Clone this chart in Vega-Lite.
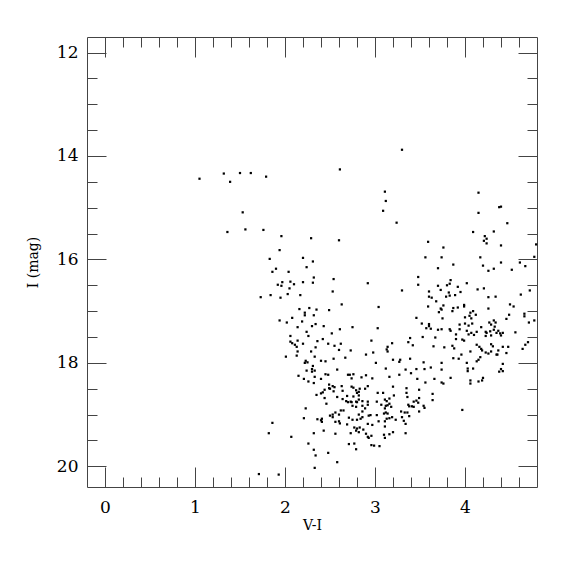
{
  "$schema": "https://vega.github.io/schema/vega-lite/v6.json",
  "width": 450,
  "height": 450,
  "autosize": {"type": "none"},
  "padding": {"left": 87, "top": 37, "right": 38, "bottom": 51},
  "background": "white",
  "config": {
    "view": {"stroke": "#444", "strokeWidth": 1},
    "font": "DejaVu Serif",
    "axis": {"labelFont": "DejaVu Serif", "titleFont": "DejaVu Serif", "domain": false, "grid": false, "tickColor": "#444", "tickWidth": 1, "labelColor": "black", "titleColor": "black", "titleFontWeight": "normal"}
  },
  "data": {"values": [
    {"vi":1.05,"mag":14.44},{"vi":1.32,"mag":14.34},{"vi":1.39,"mag":14.50},{"vi":1.50,"mag":14.33},{"vi":1.62,"mag":14.33},{"vi":1.79,"mag":14.40},{"vi":1.53,"mag":15.09},{"vi":1.36,"mag":15.47},{"vi":1.56,"mag":15.42},{"vi":1.76,"mag":15.43},{"vi":1.96,"mag":15.55},{"vi":1.94,"mag":15.82},{"vi":1.83,"mag":15.99},{"vi":2.20,"mag":15.97},{"vi":2.24,"mag":16.15},{"vi":1.90,"mag":16.18},{"vi":1.86,"mag":16.24},{"vi":2.04,"mag":16.24},{"vi":1.97,"mag":16.44},{"vi":2.06,"mag":16.43},{"vi":2.20,"mag":16.44},{"vi":1.92,"mag":16.49},{"vi":1.96,"mag":16.51},{"vi":2.10,"mag":16.48},{"vi":2.05,"mag":16.56},{"vi":1.73,"mag":16.73},{"vi":1.84,"mag":16.69},{"vi":1.95,"mag":16.74},{"vi":2.03,"mag":16.67},{"vi":2.17,"mag":16.69},{"vi":2.16,"mag":16.96},
    {"vi":2.08,"mag":17.13},{"vi":1.94,"mag":17.18},{"vi":2.02,"mag":17.22},{"vi":2.14,"mag":17.31},{"vi":2.06,"mag":17.48},{"vi":2.06,"mag":17.59},{"vi":2.08,"mag":17.62},{"vi":2.14,"mag":17.57},{"vi":2.11,"mag":17.65},{"vi":2.13,"mag":17.69},{"vi":2.14,"mag":17.78},{"vi":2.01,"mag":17.88},{"vi":2.13,"mag":17.86},{"vi":2.15,"mag":18.25},{"vi":1.86,"mag":19.16},{"vi":1.82,"mag":19.36},{"vi":2.07,"mag":19.43},{"vi":1.71,"mag":20.15},{"vi":1.93,"mag":20.16},
    {"vi":3.30,"mag":13.88},{"vi":2.61,"mag":14.26},{"vi":3.11,"mag":14.69},{"vi":3.12,"mag":14.87},{"vi":3.09,"mag":15.06},{"vi":3.24,"mag":15.29},{"vi":2.29,"mag":15.59},{"vi":2.60,"mag":15.63},{"vi":2.31,"mag":16.04},{"vi":2.32,"mag":16.35},{"vi":2.31,"mag":16.45},{"vi":2.54,"mag":16.38},{"vi":2.92,"mag":16.46},
    {"vi":2.53,"mag":16.62},{"vi":3.30,"mag":16.60},{"vi":2.63,"mag":16.87},{"vi":3.04,"mag":16.92},{"vi":2.27,"mag":16.94},{"vi":2.35,"mag":16.97},{"vi":2.49,"mag":16.98},{"vi":2.22,"mag":17.03},{"vi":2.22,"mag":17.08},{"vi":2.32,"mag":17.08},{"vi":3.46,"mag":17.13},{"vi":2.19,"mag":17.20},{"vi":2.34,"mag":17.25},{"vi":2.30,"mag":17.29},{"vi":2.75,"mag":17.31},{"vi":3.03,"mag":17.33},{"vi":2.43,"mag":17.29},{"vi":2.24,"mag":17.40},{"vi":2.52,"mag":17.43},{"vi":2.61,"mag":17.35},{"vi":2.26,"mag":17.48},{"vi":2.42,"mag":17.54},{"vi":2.36,"mag":17.58},{"vi":3.37,"mag":17.60},{"vi":3.39,"mag":17.52},{"vi":2.96,"mag":17.57},{"vi":2.20,"mag":17.63},{"vi":2.48,"mag":17.63},{"vi":2.55,"mag":17.67},{"vi":2.62,"mag":17.63},{"vi":3.19,"mag":17.62},{"vi":3.14,"mag":17.69},{"vi":3.42,"mag":17.66},{"vi":2.34,"mag":17.70},{"vi":2.60,"mag":17.75},{"vi":3.13,"mag":17.74},{"vi":3.14,"mag":17.78},{"vi":2.73,"mag":17.76},{"vi":2.29,"mag":17.78},{"vi":2.90,"mag":17.84},{"vi":2.98,"mag":17.80},{"vi":2.33,"mag":17.88},{"vi":2.67,"mag":17.90},{"vi":2.54,"mag":17.92},{"vi":3.20,"mag":17.94},{"vi":3.28,"mag":17.94},{"vi":3.27,"mag":17.98},{"vi":3.39,"mag":17.92},{"vi":2.23,"mag":17.96},{"vi":2.25,"mag":17.99},{"vi":2.22,"mag":18.00},{"vi":2.31,"mag":18.06},{"vi":2.40,"mag":17.96},{"vi":2.45,"mag":17.97},{"vi":3.01,"mag":18.00},{"vi":2.30,"mag":18.12},{"vi":2.30,"mag":18.17},{"vi":2.33,"mag":18.15},{"vi":2.24,"mag":18.15},{"vi":2.58,"mag":18.13},{"vi":3.12,"mag":18.11},{"vi":3.34,"mag":18.13},{"vi":3.46,"mag":18.12},{"vi":2.45,"mag":18.22},{"vi":2.48,"mag":18.23},{"vi":2.70,"mag":18.23},{"vi":2.72,"mag":18.23},{"vi":2.76,"mag":18.22},{"vi":2.33,"mag":18.27},{"vi":2.74,"mag":18.30},{"vi":2.85,"mag":18.28},{"vi":2.90,"mag":18.24},{"vi":2.97,"mag":18.30},{"vi":3.16,"mag":18.27},{"vi":3.27,"mag":18.23},{"vi":3.40,"mag":18.20},{"vi":2.21,"mag":18.31},{"vi":2.26,"mag":18.36},{"vi":2.32,"mag":18.39},{"vi":2.40,"mag":18.31},{"vi":3.47,"mag":18.31},{"vi":2.49,"mag":18.42},{"vi":2.53,"mag":18.45},{"vi":2.55,"mag":18.47},{"vi":2.50,"mag":18.50},{"vi":2.63,"mag":18.45},{"vi":2.64,"mag":18.54},{"vi":2.74,"mag":18.46},{"vi":2.76,"mag":18.48},{"vi":2.83,"mag":18.50},{"vi":2.92,"mag":18.45},{"vi":2.89,"mag":18.50},{"vi":3.20,"mag":18.46},{"vi":3.35,"mag":18.49},{"vi":2.44,"mag":18.52},{"vi":2.49,"mag":18.49},{"vi":2.42,"mag":18.57},{"vi":2.40,"mag":18.59},{"vi":2.54,"mag":18.55},{"vi":2.35,"mag":18.62},{"vi":2.44,"mag":18.68},{"vi":2.58,"mag":18.66},{"vi":2.79,"mag":18.53},{"vi":2.80,"mag":18.58},{"vi":2.82,"mag":18.56},{"vi":2.82,"mag":18.63},{"vi":2.69,"mag":18.64},{"vi":2.76,"mag":18.65},{"vi":2.82,"mag":18.71},{"vi":2.64,"mag":18.70},{"vi":2.68,"mag":18.74},{"vi":2.70,"mag":18.76},{"vi":2.73,"mag":18.75},{"vi":2.74,"mag":18.76},{"vi":2.79,"mag":18.75},{"vi":2.80,"mag":18.76},{"vi":2.86,"mag":18.74},{"vi":2.92,"mag":18.75},{"vi":3.03,"mag":18.58},{"vi":3.09,"mag":18.58},{"vi":3.21,"mag":18.63},{"vi":3.35,"mag":18.58},{"vi":3.36,"mag":18.66},{"vi":3.43,"mag":18.75},{"vi":3.49,"mag":18.68},{"vi":3.02,"mag":18.75},{"vi":3.11,"mag":18.71},{"vi":3.16,"mag":18.69},{"vi":3.13,"mag":18.74},{"vi":2.46,"mag":18.79},{"vi":2.75,"mag":18.83},{"vi":2.79,"mag":18.85},{"vi":2.86,"mag":18.83},{"vi":2.92,"mag":18.81},{"vi":2.89,"mag":18.88},{"vi":3.07,"mag":18.81},{"vi":3.12,"mag":18.83},{"vi":3.14,"mag":18.82},{"vi":3.18,"mag":18.85},{"vi":3.11,"mag":18.88},{"vi":3.16,"mag":18.79},{"vi":3.37,"mag":18.81},{"vi":3.38,"mag":18.84},{"vi":3.41,"mag":18.84},{"vi":3.43,"mag":18.85},{"vi":3.48,"mag":18.77},{"vi":3.49,"mag":18.94},{"vi":2.23,"mag":18.88},{"vi":2.65,"mag":18.92},{"vi":2.62,"mag":18.92},{"vi":2.56,"mag":18.96},{"vi":2.60,"mag":19.00},{"vi":2.53,"mag":19.00},{"vi":2.50,"mag":19.02},{"vi":2.53,"mag":19.05},{"vi":2.86,"mag":18.94},{"vi":2.82,"mag":19.00},{"vi":2.95,"mag":19.01},{"vi":2.93,"mag":19.02},{"vi":3.02,"mag":19.01},{"vi":3.10,"mag":18.98},{"vi":3.12,"mag":18.96},{"vi":3.14,"mag":18.98},{"vi":3.29,"mag":18.94},{"vi":3.33,"mag":18.96},{"vi":3.36,"mag":18.96},{"vi":3.30,"mag":19.05},{"vi":3.32,"mag":19.12},{"vi":3.34,"mag":19.18},{"vi":3.38,"mag":19.03},{"vi":3.16,"mag":19.07},{"vi":3.19,"mag":19.05},{"vi":3.23,"mag":19.10},{"vi":3.11,"mag":19.13},{"vi":3.04,"mag":19.13},{"vi":3.13,"mag":19.08},{"vi":2.21,"mag":19.07},{"vi":2.36,"mag":19.09},{"vi":2.41,"mag":19.08},{"vi":2.40,"mag":19.11},{"vi":2.41,"mag":19.14},{"vi":2.56,"mag":19.14},{"vi":2.60,"mag":19.13},{"vi":2.61,"mag":19.17},{"vi":2.71,"mag":19.06},{"vi":2.75,"mag":19.10},{"vi":2.80,"mag":19.10},{"vi":2.84,"mag":19.08},{"vi":2.86,"mag":19.05},{"vi":2.69,"mag":19.19},{"vi":2.92,"mag":19.18},{"vi":2.97,"mag":19.20},{"vi":3.11,"mag":19.23},{"vi":2.77,"mag":19.25},{"vi":2.80,"mag":19.27},{"vi":2.83,"mag":19.25},{"vi":2.79,"mag":19.31},{"vi":2.82,"mag":19.34},{"vi":2.87,"mag":19.29},{"vi":2.43,"mag":19.31},{"vi":2.56,"mag":19.37},{"vi":2.32,"mag":19.36},{"vi":2.73,"mag":19.36},{"vi":2.90,"mag":19.37},{"vi":2.92,"mag":19.43},{"vi":2.93,"mag":19.45},{"vi":2.96,"mag":19.41},{"vi":3.10,"mag":19.39},{"vi":3.11,"mag":19.45},{"vi":3.16,"mag":19.38},{"vi":3.20,"mag":19.34},{"vi":3.34,"mag":19.36},{"vi":2.26,"mag":19.56},{"vi":2.71,"mag":19.57},{"vi":2.77,"mag":19.56},{"vi":2.79,"mag":19.67},{"vi":2.96,"mag":19.59},{"vi":2.99,"mag":19.60},{"vi":3.05,"mag":19.61},{"vi":2.32,"mag":19.68},{"vi":2.34,"mag":19.79},{"vi":2.48,"mag":19.74},{"vi":2.58,"mag":19.92},{"vi":2.33,"mag":20.03},
    {"vi":4.15,"mag":14.71},{"vi":4.38,"mag":14.99},{"vi":4.40,"mag":14.98},{"vi":4.15,"mag":15.10},{"vi":4.47,"mag":15.30},{"vi":4.09,"mag":15.47},{"vi":4.32,"mag":15.46},{"vi":4.22,"mag":15.55},{"vi":4.24,"mag":15.60},{"vi":4.21,"mag":15.64},{"vi":4.24,"mag":15.69},{"vi":4.40,"mag":15.73},{"vi":3.59,"mag":15.66},{"vi":3.76,"mag":15.77},{"vi":4.79,"mag":15.71},{"vi":3.56,"mag":15.96},{"vi":3.74,"mag":15.96},{"vi":4.17,"mag":15.96},{"vi":4.77,"mag":15.95},{"vi":3.87,"mag":16.10},{"vi":4.20,"mag":16.12},{"vi":4.40,"mag":16.06},{"vi":4.67,"mag":16.13},{"vi":4.61,"mag":16.06},{"vi":3.70,"mag":16.17},{"vi":4.26,"mag":16.22},{"vi":4.32,"mag":16.18},{"vi":4.52,"mag":16.20},{"vi":3.48,"mag":16.34},{"vi":3.48,"mag":16.49},{"vi":3.84,"mag":16.40},{"vi":3.83,"mag":16.47},{"vi":3.80,"mag":16.50},{"vi":3.70,"mag":16.51},{"vi":4.02,"mag":16.46},{"vi":3.92,"mag":16.53},{"vi":3.73,"mag":16.59},{"vi":3.60,"mag":16.62},{"vi":3.95,"mag":16.63},{"vi":3.82,"mag":16.64},{"vi":4.14,"mag":16.58},{"vi":4.21,"mag":16.56},{"vi":4.72,"mag":16.60},{"vi":4.62,"mag":16.68},{"vi":3.60,"mag":16.72},{"vi":3.63,"mag":16.74},{"vi":3.68,"mag":16.81},{"vi":3.79,"mag":16.72},{"vi":3.83,"mag":16.70},{"vi":3.89,"mag":16.69},{"vi":4.26,"mag":16.73},{"vi":4.34,"mag":16.72},{"vi":4.50,"mag":16.87},{"vi":4.54,"mag":16.91},{"vi":3.59,"mag":16.91},{"vi":3.76,"mag":16.89},{"vi":3.73,"mag":16.95},{"vi":3.87,"mag":16.94},{"vi":3.92,"mag":16.93},{"vi":3.99,"mag":16.88},{"vi":3.99,"mag":16.91},{"vi":4.26,"mag":16.95},
    {"vi":3.71,"mag":17.02},{"vi":3.74,"mag":16.97},{"vi":3.86,"mag":17.00},{"vi":4.09,"mag":17.00},{"vi":4.06,"mag":17.03},{"vi":4.12,"mag":17.07},{"vi":4.05,"mag":17.09},{"vi":4.66,"mag":17.05},{"vi":4.66,"mag":17.10},{"vi":4.49,"mag":17.07},{"vi":3.75,"mag":17.14},{"vi":4.00,"mag":17.12},{"vi":4.07,"mag":17.14},{"vi":4.46,"mag":17.15},{"vi":4.71,"mag":17.22},{"vi":4.77,"mag":17.18},{"vi":3.52,"mag":17.24},{"vi":3.60,"mag":17.25},{"vi":3.60,"mag":17.29},{"vi":3.57,"mag":17.33},{"vi":3.62,"mag":17.34},{"vi":3.94,"mag":17.26},{"vi":4.00,"mag":17.24},{"vi":4.04,"mag":17.28},{"vi":4.08,"mag":17.24},{"vi":4.27,"mag":17.22},{"vi":4.32,"mag":17.18},{"vi":4.34,"mag":17.22},{"vi":4.29,"mag":17.26},{"vi":4.33,"mag":17.30},{"vi":4.18,"mag":17.31},{"vi":3.70,"mag":17.36},{"vi":3.74,"mag":17.35},{"vi":3.83,"mag":17.35},{"vi":3.84,"mag":17.38},{"vi":3.94,"mag":17.35},{"vi":4.02,"mag":17.38},{"vi":4.23,"mag":17.40},{"vi":4.28,"mag":17.39},{"vi":4.32,"mag":17.36},{"vi":4.37,"mag":17.38},{"vi":4.35,"mag":17.42},{"vi":4.39,"mag":17.43},{"vi":4.42,"mag":17.42},{"vi":4.56,"mag":17.41},{"vi":4.24,"mag":17.42},{"vi":4.13,"mag":17.40},{"vi":4.07,"mag":17.42},{"vi":4.10,"mag":17.46},{"vi":4.04,"mag":17.45},{"vi":3.90,"mag":17.45},{"vi":4.23,"mag":17.48},{"vi":4.29,"mag":17.47},{"vi":4.40,"mag":17.47},{"vi":3.53,"mag":17.50},{"vi":3.67,"mag":17.51},{"vi":3.90,"mag":17.54},{"vi":3.97,"mag":17.55},{"vi":3.99,"mag":17.57},{"vi":4.70,"mag":17.60},{"vi":3.65,"mag":17.68},{"vi":3.77,"mag":17.70},{"vi":3.86,"mag":17.67},{"vi":3.88,"mag":17.72},{"vi":4.13,"mag":17.65},{"vi":4.16,"mag":17.69},{"vi":4.18,"mag":17.73},{"vi":4.19,"mag":17.76},{"vi":4.29,"mag":17.64},{"vi":4.31,"mag":17.68},{"vi":4.42,"mag":17.69},{"vi":4.48,"mag":17.69},{"vi":4.67,"mag":17.65},{"vi":4.64,"mag":17.73},{"vi":4.06,"mag":17.78},{"vi":4.23,"mag":17.80},{"vi":4.29,"mag":17.78},{"vi":4.37,"mag":17.76},{"vi":4.46,"mag":17.81},{"vi":4.26,"mag":17.82},{"vi":4.36,"mag":17.84},{"vi":4.35,"mag":17.84},{"vi":3.96,"mag":17.84},{"vi":3.87,"mag":17.91},{"vi":3.93,"mag":17.92},{"vi":4.17,"mag":17.89},{"vi":4.15,"mag":17.94},{"vi":4.13,"mag":17.97},{"vi":3.54,"mag":17.99},{"vi":3.74,"mag":18.00},{"vi":4.02,"mag":18.00},{"vi":4.42,"mag":18.02},{"vi":3.62,"mag":18.09},{"vi":3.55,"mag":18.12},{"vi":3.74,"mag":18.13},{"vi":4.03,"mag":18.11},{"vi":4.03,"mag":18.16},{"vi":4.09,"mag":18.11},{"vi":4.40,"mag":18.12},{"vi":4.42,"mag":18.16},{"vi":4.38,"mag":18.17},{"vi":3.66,"mag":18.31},{"vi":3.84,"mag":18.29},{"vi":4.20,"mag":18.29},{"vi":4.19,"mag":18.34},{"vi":4.15,"mag":18.36},{"vi":3.56,"mag":18.38},{"vi":3.74,"mag":18.38},{"vi":3.76,"mag":18.40},{"vi":4.06,"mag":18.34},{"vi":4.06,"mag":18.40},{"vi":3.49,"mag":18.52},{"vi":3.64,"mag":18.60},{"vi":3.64,"mag":18.72},{"vi":3.46,"mag":18.73},{"vi":3.54,"mag":18.83},{"vi":3.55,"mag":18.87},{"vi":3.97,"mag":18.91}
  ]},
  "layer": [
    {
      "mark": {"type": "square", "size": 5, "color": "black", "opacity": 1},
      "encoding": {
        "x": {"field": "vi", "type": "quantitative", "scale": {"domain": [-0.2, 4.8], "nice": false, "zero": false},
              "axis": {"orient": "bottom", "values": [0, 1, 2, 3, 4], "tickSize": -20, "labelFontSize": 17, "labelPadding": 32, "title": "V-I", "titleFontSize": 14, "titlePadding": 3}},
        "y": {"field": "mag", "type": "quantitative", "scale": {"domain": [11.7, 20.4], "reverse": true, "nice": false, "zero": false},
              "axis": {"orient": "left", "values": [12, 14, 16, 18, 20], "tickSize": -19, "labelFontSize": 17, "labelPadding": 28, "title": "I (mag)", "titleFontSize": 14, "titlePadding": 16}}
      }
    },
    {
      "mark": {"type": "square", "size": 5, "opacity": 0},
      "encoding": {
        "x": {"field": "vi", "type": "quantitative", "scale": {"domain": [-0.2, 4.8], "nice": false, "zero": false},
              "axis": {"orient": "bottom", "values": [0.2,0.4,0.6,0.8,1.2,1.4,1.6,1.8,2.2,2.4,2.6,2.8,3.2,3.4,3.6,3.8,4.2,4.4,4.6], "tickSize": -10, "labels": false, "title": null}},
        "y": {"field": "mag", "type": "quantitative", "scale": {"domain": [11.7, 20.4], "reverse": true, "nice": false, "zero": false},
              "axis": {"orient": "left", "values": [12.5,13,13.5,14.5,15,15.5,16.5,17,17.5,18.5,19,19.5], "tickSize": -10, "labels": false, "title": null}}
      }
    },
    {
      "mark": {"type": "square", "size": 5, "opacity": 0},
      "encoding": {
        "x": {"field": "vi", "type": "quantitative", "scale": {"domain": [-0.2, 4.8], "nice": false, "zero": false},
              "axis": {"orient": "top", "values": [0, 1, 2, 3, 4], "tickSize": -20, "labels": false, "title": null}},
        "y": {"field": "mag", "type": "quantitative", "scale": {"domain": [11.7, 20.4], "reverse": true, "nice": false, "zero": false},
              "axis": {"orient": "right", "values": [12, 14, 16, 18, 20], "tickSize": -19, "labels": false, "title": null}}
      }
    },
    {
      "mark": {"type": "square", "size": 5, "opacity": 0},
      "encoding": {
        "x": {"field": "vi", "type": "quantitative", "scale": {"domain": [-0.2, 4.8], "nice": false, "zero": false},
              "axis": {"orient": "top", "values": [0.2,0.4,0.6,0.8,1.2,1.4,1.6,1.8,2.2,2.4,2.6,2.8,3.2,3.4,3.6,3.8,4.2,4.4,4.6], "tickSize": -10, "labels": false, "title": null}},
        "y": {"field": "mag", "type": "quantitative", "scale": {"domain": [11.7, 20.4], "reverse": true, "nice": false, "zero": false},
              "axis": {"orient": "right", "values": [12.5,13,13.5,14.5,15,15.5,16.5,17,17.5,18.5,19,19.5], "tickSize": -10, "labels": false, "title": null}}
      }
    }
  ],
  "resolve": {"axis": {"x": "independent", "y": "independent"}}
}
